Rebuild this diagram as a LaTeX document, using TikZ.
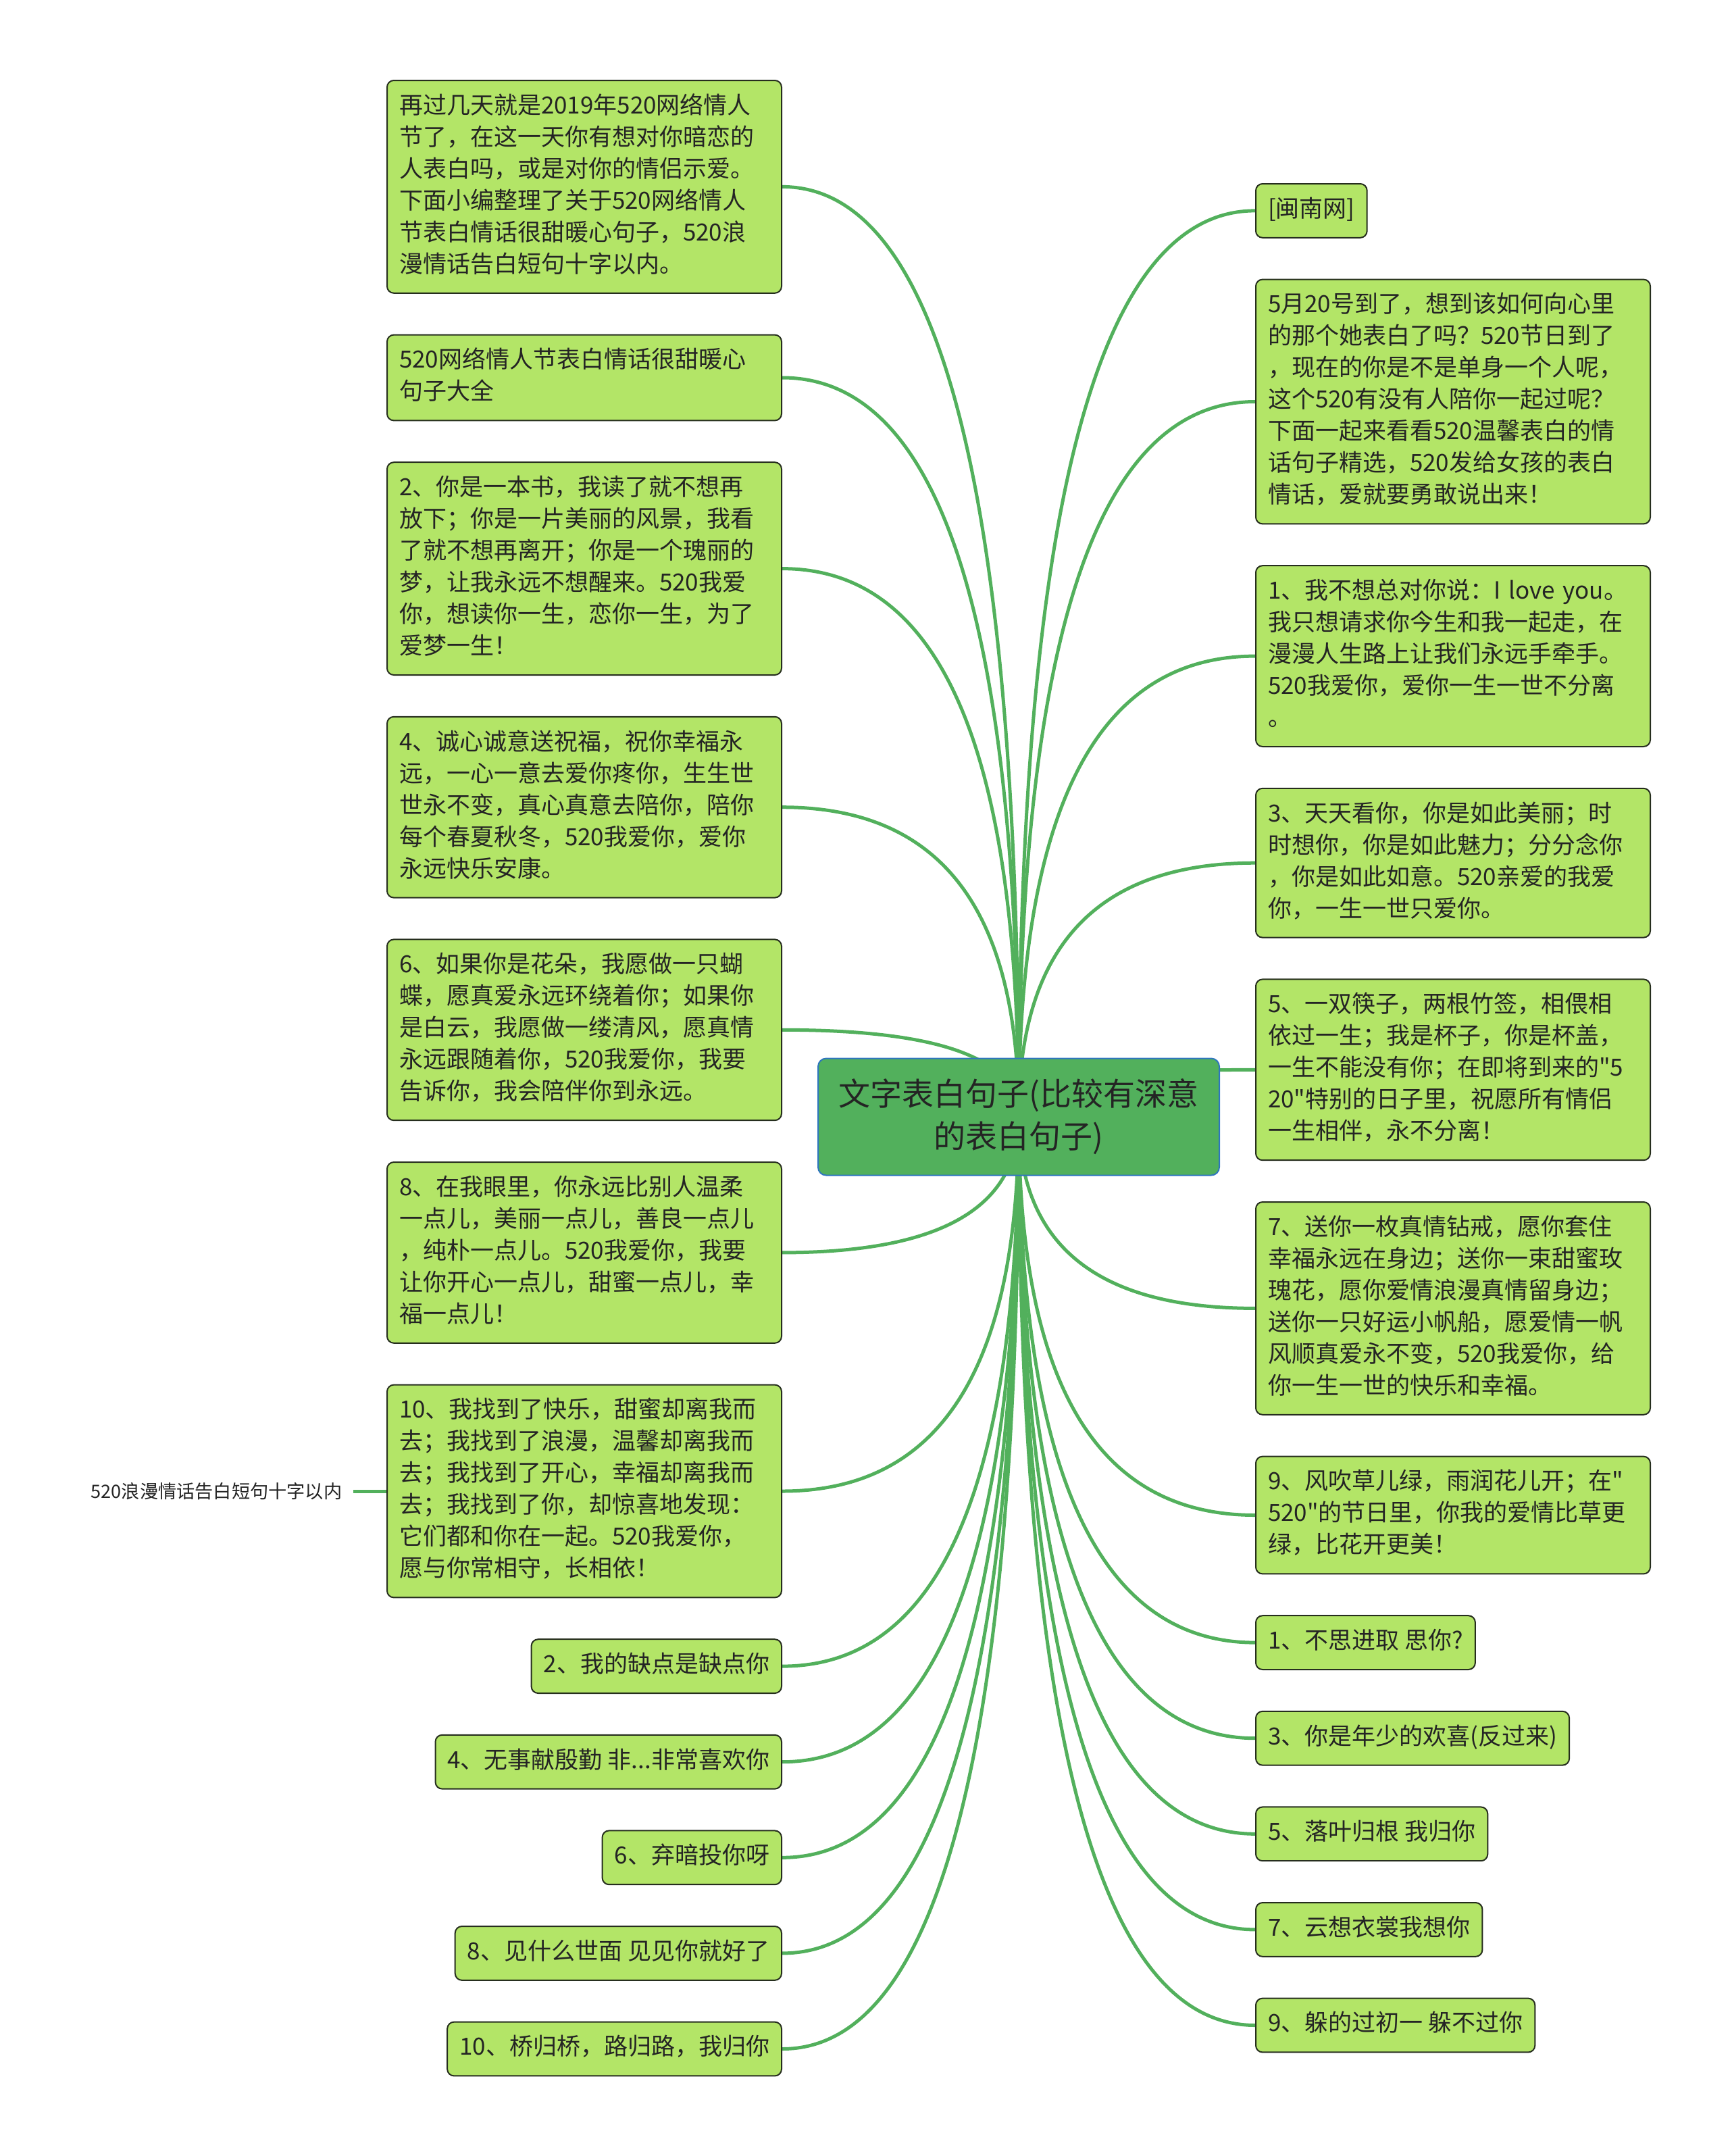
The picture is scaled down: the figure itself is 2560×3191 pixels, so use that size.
\documentclass[tikz,border=0pt]{standalone}
\usepackage{fontspec}
\usepackage{xcolor}
\usepackage{tikz}
\usetikzlibrary{positioning, calc, backgrounds}
\newfontfamily\cjkfont{Noto Sans CJK SC}
\definecolor{leafgreen}{RGB}{179,229,103}
\definecolor{leafborder}{RGB}{38,46,30}
\definecolor{rootgreen}{RGB}{82,176,92}
\definecolor{rootblue}{RGB}{46,117,190}
\definecolor{branchgreen}{RGB}{82,176,92}
\definecolor{inkgray}{RGB}{36,36,36}
\tikzset{
  card/.style={rectangle, rounded corners=2.5pt, draw=leafborder, line width=0.5pt,
    fill=leafgreen, text=inkgray, align=left, inner xsep=4.5pt, inner ysep=4.1pt,
    font=\cjkfont\fontsize{8.75pt}{11.75pt}\selectfont,
    execute at begin node=\strut, execute at end node=\strut},
  widecard/.style={card, text width=137pt},
  rootcard/.style={rectangle, rounded corners=3pt, draw=rootblue, line width=0.5pt,
    fill=rootgreen, text=inkgray, align=center, minimum width=148.5pt,
    minimum height=43.25pt, font=\cjkfont\fontsize{11.75pt}{15.75pt}\selectfont},
  tag/.style={text=inkgray, inner xsep=4pt, font=\cjkfont\fontsize{6.8pt}{9pt}\selectfont},
  branch/.style={draw=branchgreen, line width=1.25pt,
    to path={.. controls ($(\tikztostart)!0.67!(\tikztostart |- \tikztotarget)$)
      and ($(\tikztotarget)!0.67!(\tikztostart |- \tikztotarget)$) .. (\tikztotarget)}},
}
\begin{document}
\begin{tikzpicture}[x=0.25pt, y=-0.25pt]
  \useasboundingbox (0,0) rectangle (2560,3191);
  \node[rootcard] (root) at (1508,1653) {文字表白句子(比较有深意\\的表白句子)};

  % left column
  \node[widecard, anchor=north east] (l1) at (1158,118)
    {再过几天就是2019年520网络情人\\节了，在这一天你有想对你暗恋的\\人表白吗，或是对你的情侣示爱。\\下面小编整理了关于520网络情人\\节表白情话很甜暖心句子，520浪\\漫情话告白短句十字以内。};
  \node[widecard, below left=14.95pt and 0pt of l1.south east] (l2)
    {520网络情人节表白情话很甜暖心\\句子大全};
  \node[widecard, below left=14.95pt and 0pt of l2.south east] (l3)
    {2、你是一本书，我读了就不想再\\放下；你是一片美丽的风景，我看\\了就不想再离开；你是一个瑰丽的\\梦，让我永远不想醒来。520我爱\\你，想读你一生，恋你一生，为了\\爱梦一生！};
  \node[widecard, below left=14.95pt and 0pt of l3.south east] (l4)
    {4、诚心诚意送祝福，祝你幸福永\\远，一心一意去爱你疼你，生生世\\世永不变，真心真意去陪你，陪你\\每个春夏秋冬，520我爱你，爱你\\永远快乐安康。};
  \node[widecard, below left=14.95pt and 0pt of l4.south east] (l5)
    {6、如果你是花朵，我愿做一只蝴\\蝶，愿真爱永远环绕着你；如果你\\是白云，我愿做一缕清风，愿真情\\永远跟随着你，520我爱你，我要\\告诉你，我会陪伴你到永远。};
  \node[widecard, below left=14.95pt and 0pt of l5.south east] (l6)
    {8、在我眼里，你永远比别人温柔\\一点儿，美丽一点儿，善良一点儿\\，纯朴一点儿。520我爱你，我要\\让你开心一点儿，甜蜜一点儿，幸\\福一点儿！};
  \node[widecard, below left=14.95pt and 0pt of l6.south east] (l7)
    {10、我找到了快乐，甜蜜却离我而\\去；我找到了浪漫，温馨却离我而\\去；我找到了开心，幸福却离我而\\去；我找到了你，却惊喜地发现：\\它们都和你在一起。520我爱你，\\愿与你常相守，长相依！};
  \node[card, below left=14.95pt and 0pt of l7.south east] (l8) {2、我的缺点是缺点你};
  \node[card, below left=14.95pt and 0pt of l8.south east] (l9) {4、无事献殷勤 非...非常喜欢你};
  \node[card, below left=14.95pt and 0pt of l9.south east] (l10) {6、弃暗投你呀};
  \node[card, below left=14.95pt and 0pt of l10.south east] (l11) {8、见什么世面 见见你就好了};
  \node[card, below left=14.95pt and 0pt of l11.south east] (l12) {10、桥归桥，路归路，我归你};
  \node[tag, left=12.25pt of l7] (l7x) {520浪漫情话告白短句十字以内};

  % right column
  \node[card, anchor=north west] (r1) at (1858,271) {[闽南网]};
  \node[widecard, below right=14.95pt and 0pt of r1.south west] (r2)
    {5月20号到了，想到该如何向心里\\的那个她表白了吗？520节日到了\\，现在的你是不是单身一个人呢，\\这个520有没有人陪你一起过呢？\\下面一起来看看520温馨表白的情\\话句子精选，520发给女孩的表白\\情话，爱就要勇敢说出来！};
  \node[widecard, below right=14.95pt and 0pt of r2.south west] (r3)
    {1、我不想总对你说：I love you。\\我只想请求你今生和我一起走，在\\漫漫人生路上让我们永远手牵手。\\520我爱你，爱你一生一世不分离\\。};
  \node[widecard, below right=14.95pt and 0pt of r3.south west] (r4)
    {3、天天看你，你是如此美丽；时\\时想你，你是如此魅力；分分念你\\，你是如此如意。520亲爱的我爱\\你，一生一世只爱你。};
  \node[widecard, below right=14.95pt and 0pt of r4.south west] (r5)
    {5、一双筷子，两根竹签，相偎相\\依过一生；我是杯子，你是杯盖，\\一生不能没有你；在即将到来的"5\\20"特别的日子里，祝愿所有情侣\\一生相伴，永不分离！};
  \node[widecard, below right=14.95pt and 0pt of r5.south west] (r6)
    {7、送你一枚真情钻戒，愿你套住\\幸福永远在身边；送你一束甜蜜玫\\瑰花，愿你爱情浪漫真情留身边；\\送你一只好运小帆船，愿爱情一帆\\风顺真爱永不变，520我爱你，给\\你一生一世的快乐和幸福。};
  \node[widecard, below right=14.95pt and 0pt of r6.south west] (r7)
    {9、风吹草儿绿，雨润花儿开；在"\\520"的节日里，你我的爱情比草更\\绿，比花开更美！};
  \node[card, below right=14.95pt and 0pt of r7.south west] (r8) {1、不思进取 思你?};
  \node[card, below right=14.95pt and 0pt of r8.south west] (r9) {3、你是年少的欢喜(反过来)};
  \node[card, below right=14.95pt and 0pt of r9.south west] (r10) {5、落叶归根 我归你};
  \node[card, below right=14.95pt and 0pt of r10.south west] (r11) {7、云想衣裳我想你};
  \node[card, below right=14.95pt and 0pt of r11.south west] (r12) {9、躲的过初一 躲不过你};

  \begin{scope}[on background layer]
    \draw[branch] (root.center) to (l1.east);
    \draw[branch] (root.center) to (l2.east);
    \draw[branch] (root.center) to (l3.east);
    \draw[branch] (root.center) to (l4.east);
    \draw[branch] (root.center) to (l5.east);
    \draw[branch] (root.center) to (l6.east);
    \draw[branch] (root.center) to (l7.east);
    \draw[branch] (root.center) to (l8.east);
    \draw[branch] (root.center) to (l9.east);
    \draw[branch] (root.center) to (l10.east);
    \draw[branch] (root.center) to (l11.east);
    \draw[branch] (root.center) to (l12.east);
    \draw[branch] (root.center) to (r1.west);
    \draw[branch] (root.center) to (r2.west);
    \draw[branch] (root.center) to (r3.west);
    \draw[branch] (root.center) to (r4.west);
    \draw[branch] (root.center) to (r5.west);
    \draw[branch] (root.center) to (r6.west);
    \draw[branch] (root.center) to (r7.west);
    \draw[branch] (root.center) to (r8.west);
    \draw[branch] (root.center) to (r9.west);
    \draw[branch] (root.center) to (r10.west);
    \draw[branch] (root.center) to (r11.west);
    \draw[branch] (root.center) to (r12.west);
    \draw[branch] (l7x) -- (l7);
  \end{scope}
\end{tikzpicture}
\end{document}
